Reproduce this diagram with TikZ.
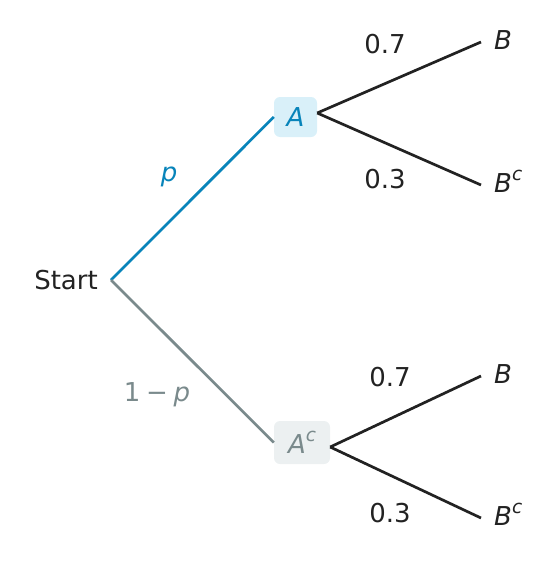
\documentclass[tikz,border=0pt]{standalone}
\usepackage{fontspec}
\setmainfont{DejaVu Sans}
\usetikzlibrary{calc}
\definecolor{blu}{RGB}{8,132,186}
\definecolor{blufill}{RGB}{217,240,249}
\definecolor{gry}{RGB}{122,138,140}
\definecolor{gryfill}{RGB}{236,240,241}
\definecolor{ink}{RGB}{34,34,34}
\newcommand\mysupc{\raisebox{0.45em}{\fontsize{18.5}{20}\selectfont c}}
\begin{document}
\begin{tikzpicture}[x=1pt,y=-1pt,font=\fontsize{26}{30}\selectfont,
  branch/.style={line width=2.7pt},
  evbox/.style={rounded corners=6pt,inner sep=0pt,font=\fontsize{26}{30}\selectfont\itshape},
  leaf/.style={anchor=west,inner xsep=13pt,inner ysep=0pt,text height=14pt,text depth=0pt,text=ink,font=\fontsize{26}{30}\selectfont\itshape},
  prob/.style={text=ink}]
\useasboundingbox (0,0) rectangle (559,562);
\coordinate (s) at (111,280);
\node[anchor=east,inner xsep=13pt,text=ink] (start) at (s) {Start};
\node[evbox,fill=blufill,text=blu,minimum width=43pt,minimum height=40pt] (A) at (295.5,117) {A};
\node[evbox,fill=gryfill,text=gry,minimum width=56pt,minimum height=43pt] (Ac) at (302,442.5) {A\mysupc};
\node[leaf] (B1) at (481,42) {B};
\node[leaf] (B1c) at (481,185) {B\mysupc};
\node[leaf] (B2) at (481,376) {B};
\node[leaf] (B2c) at (481,518) {B\mysupc};
\draw[branch,blu] (s) -- (A.west);
\draw[branch,gry] (s) -- (Ac.west);
\draw[branch,ink] ($(A.east)+(0,-4)$) -- (B1.west);
\draw[branch,ink] ($(A.east)+(0,-4)$) -- (B1c.west);
\draw[branch,ink] ($(Ac.east)+(0,4.5)$) -- (B2.west);
\draw[branch,ink] ($(Ac.east)+(0,4.5)$) -- (B2c.west);
\node[text=blu,font=\fontsize{26}{30}\selectfont\itshape] (lp) at (169,177) {p};
\node[text=gry] (lq) at (157,395) {1\hspace{0.22em}−\hspace{0.22em}\textit{p}};
\node[prob] (l1) at (385,44) {0.7};
\node[prob] (l2) at (385,179) {0.3};
\node[prob] (l3) at (390,377) {0.7};
\node[prob] (l4) at (390,513) {0.3};
\end{tikzpicture}
\end{document}
